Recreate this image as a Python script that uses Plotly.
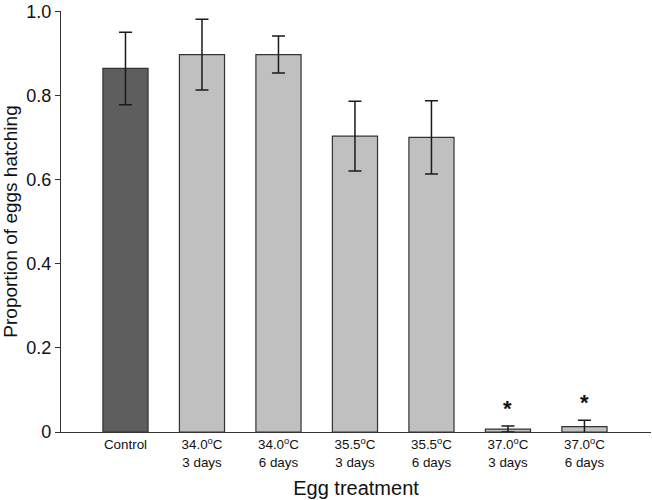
import plotly.graph_objects as go

categories = ["Control", "34.0<sup>o</sup>C<br>3 days", "34.0<sup>o</sup>C<br>6 days",
              "35.5<sup>o</sup>C<br>3 days", "35.5<sup>o</sup>C<br>6 days",
              "37.0<sup>o</sup>C<br>3 days", "37.0<sup>o</sup>C<br>6 days"]
proportion = [0.864, 0.897, 0.897, 0.703, 0.700, 0.007, 0.013]
error = [0.086, 0.084, 0.044, 0.083, 0.087, 0.007, 0.015]
significant = [False, False, False, False, False, True, True]
bar_colors = ["#5e5e5e"] + ["#c0c0c0"] * 6
y_tickvals = [0, 0.2, 0.4, 0.6, 0.8, 1.0]
y_ticktext = ["0", "0.2", "0.4", "0.6", "0.8", "1.0"]

x = list(range(len(categories)))

fig = go.Figure()
fig.add_trace(go.Bar(
    x=x, y=proportion, width=0.59,
    marker=dict(color=bar_colors, line=dict(color="#333333", width=1.2)),
    error_y=dict(type="data", array=error, visible=True, color="#1a1a1a",
                 thickness=1.5, width=6.5),
))

for xi, v, e, s in zip(x, proportion, error, significant):
    if s:
        fig.add_annotation(x=xi, y=v + e, text="<b>*</b>", showarrow=False,
                           yanchor="bottom", yshift=3,
                           font=dict(size=22, color="#111111", family="Liberation Sans, Arial"))

fig.update_layout(
    width=652, height=500,
    margin=dict(l=61, r=1, t=11, b=68, autoexpand=False),
    plot_bgcolor="white", paper_bgcolor="white",
    showlegend=False,
    font=dict(family="Liberation Sans, Arial, sans-serif", color="#111111", size=14),
    xaxis=dict(
        tickvals=x, ticktext=categories, range=[-0.843, 6.87],
        showline=True, linecolor="#333333", linewidth=1.2,
        ticks="", showgrid=False, zeroline=False, automargin=False,
        tickfont=dict(size=13.4, family="Liberation Sans, Arial, sans-serif"),
        title=dict(text="Egg treatment", font=dict(size=20), standoff=12),
    ),
    yaxis=dict(
        range=[0, 1.0005], tickvals=y_tickvals, ticktext=y_ticktext,
        showline=True, linecolor="#333333", linewidth=1.2,
        ticks="outside", ticklen=5, tickcolor="#333333", tickwidth=1.2,
        showgrid=False, zeroline=False, automargin=False,
        ticklabeloverflow="allow",
        tickfont=dict(size=18, family="Liberation Sans, Arial, sans-serif"),
        title=dict(text="Proportion of eggs hatching", font=dict(size=19), standoff=6),
    ),
)

fig.write_html("out.html", config={"displayModeBar": False},
               post_script="document.body.style.margin='0';document.body.style.overflow='hidden';")
